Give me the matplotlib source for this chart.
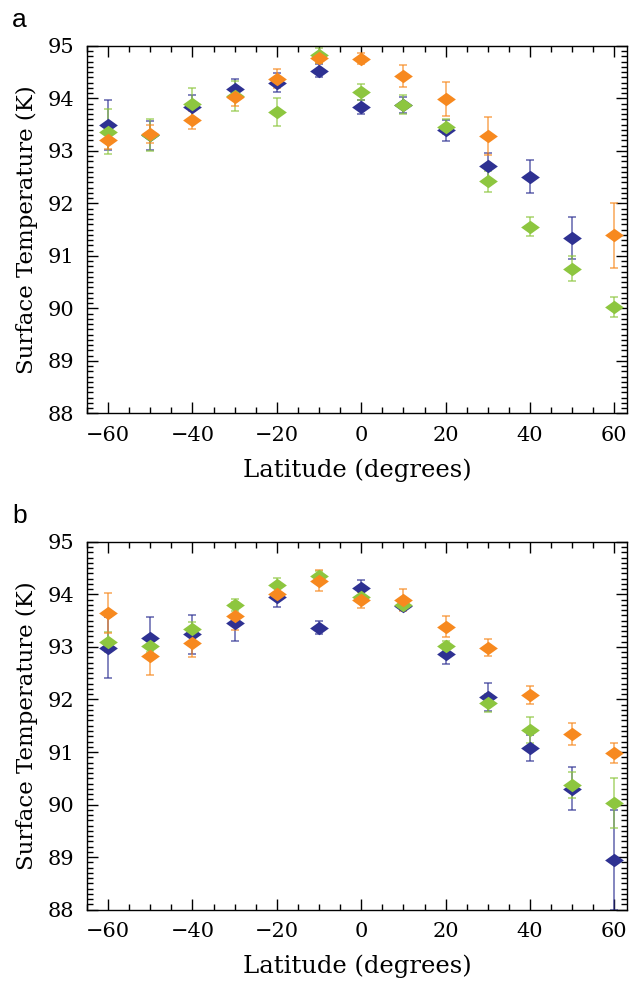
import numpy as np
import matplotlib.pyplot as plt
from matplotlib.path import Path
from matplotlib.ticker import MultipleLocator

lat = [-60, -50, -40, -30, -20, -10, 0, 10, 20, 30, 40, 50, 60]
nan = np.nan

# panel a
a_blue = [93.50, 93.30, 93.84, 94.18, 94.30, 94.53, 93.84, 93.88, 93.39, 92.72, 92.51, 91.34, nan]
a_blue_err = [0.48, 0.28, 0.22, 0.20, 0.18, 0.13, 0.13, 0.15, 0.20, 0.25, 0.31, 0.40, nan]
a_green = [93.37, 93.30, 93.89, 94.05, 93.74, 94.82, 94.12, 93.88, 93.46, 92.42, 91.56, 90.76, 90.03]
a_green_err = [0.42, 0.30, 0.30, 0.29, 0.27, 0.15, 0.15, 0.18, 0.14, 0.20, 0.18, 0.23, 0.19]
a_orange = [93.21, 93.33, 93.59, 94.03, 94.38, 94.77, 94.76, 94.43, 93.99, 93.28, nan, nan, 91.39]
a_orange_err = [0.17, 0.17, 0.17, 0.17, 0.18, 0.10, 0.10, 0.21, 0.32, 0.36, nan, nan, 0.61]

# panel b
b_blue = [92.99, 93.18, 93.24, 93.45, 93.95, 93.37, 94.13, 93.78, 92.87, 92.05, 91.08, 90.30, 88.95]
b_blue_err = [0.58, 0.39, 0.37, 0.33, 0.19, 0.13, 0.14, 0.08, 0.19, 0.26, 0.25, 0.41, 0.95]
b_green = [93.09, 93.01, 93.34, 93.80, 94.18, 94.36, 93.96, 93.80, 93.02, 91.94, 91.42, 90.37, 90.03]
b_green_err = [0.19, 0.10, 0.14, 0.11, 0.13, 0.08, 0.08, 0.08, 0.10, 0.17, 0.24, 0.24, 0.47]
b_orange = [93.64, 92.83, 93.08, 93.59, 94.01, 94.26, 93.90, 93.89, 93.39, 92.99, 92.09, 91.34, 90.99]
b_orange_err = [0.38, 0.37, 0.28, 0.27, 0.12, 0.20, 0.15, 0.21, 0.20, 0.16, 0.17, 0.21, 0.19]

BLUE = '#2e3192'
GREEN = '#8dc63f'
ORANGE = '#f7891f'

# flattened diamond marker
diamond = Path([(-1, 0), (0, 0.72), (1, 0), (0, -0.72), (-1, 0)],
               [Path.MOVETO, Path.LINETO, Path.LINETO, Path.LINETO, Path.CLOSEPOLY])

plt.rcParams['font.family'] = ['DejaVu Serif']

fig = plt.figure(figsize=(6.34, 9.84), dpi=100)
ax_a = fig.add_axes([0.1372, 0.5798, 0.8518, 0.3735])
ax_b = fig.add_axes([0.1372, 0.0757, 0.8518, 0.3735])

panels = [
    (ax_a, 'a', [(a_blue, a_blue_err, BLUE), (a_green, a_green_err, GREEN), (a_orange, a_orange_err, ORANGE)]),
    (ax_b, 'b', [(b_blue, b_blue_err, BLUE), (b_green, b_green_err, GREEN), (b_orange, b_orange_err, ORANGE)]),
]

for ax, tag, series in panels:
    for vals, errs, col in series:
        ax.errorbar(lat, vals, yerr=errs, fmt='none', ecolor=col, elinewidth=1.1,
                    capsize=3, capthick=1.1, alpha=0.75, zorder=2)
        ax.plot(lat, vals, linestyle='none', marker=diamond, markersize=13.5,
                color=col, markeredgewidth=0, zorder=3)

    ax.set_xlim(-65, 63)
    ax.set_ylim(88, 95)
    ax.xaxis.set_major_locator(MultipleLocator(20))
    ax.xaxis.set_minor_locator(MultipleLocator(5))
    ax.yaxis.set_major_locator(MultipleLocator(1))
    ax.yaxis.set_minor_locator(MultipleLocator(0.1))
    ax.tick_params(which='both', direction='in', top=True, right=True, labelsize=15, width=1.0)
    ax.tick_params(which='major', length=8, pad=9)
    ax.tick_params(which='minor', length=4)
    ax.set_xticks([-60, -40, -20, 0, 20, 40, 60])
    ax.set_xticklabels(['\u221260', '\u221240', '\u221220', '0', '20', '40', '60'])
    for sp in ax.spines.values():
        sp.set_linewidth(1.0)

    ax.set_xlabel('Latitude (degrees)', fontsize=17.5, labelpad=10)
    ax.set_ylabel('Surface Temperature (K)', fontsize=16.5, labelpad=7)
    ax.text(-0.125, 1.07, tag, transform=ax.transAxes, fontsize=19,
            family='Liberation Sans', ha='center', va='center')

fig.savefig('out.png', dpi=100)
